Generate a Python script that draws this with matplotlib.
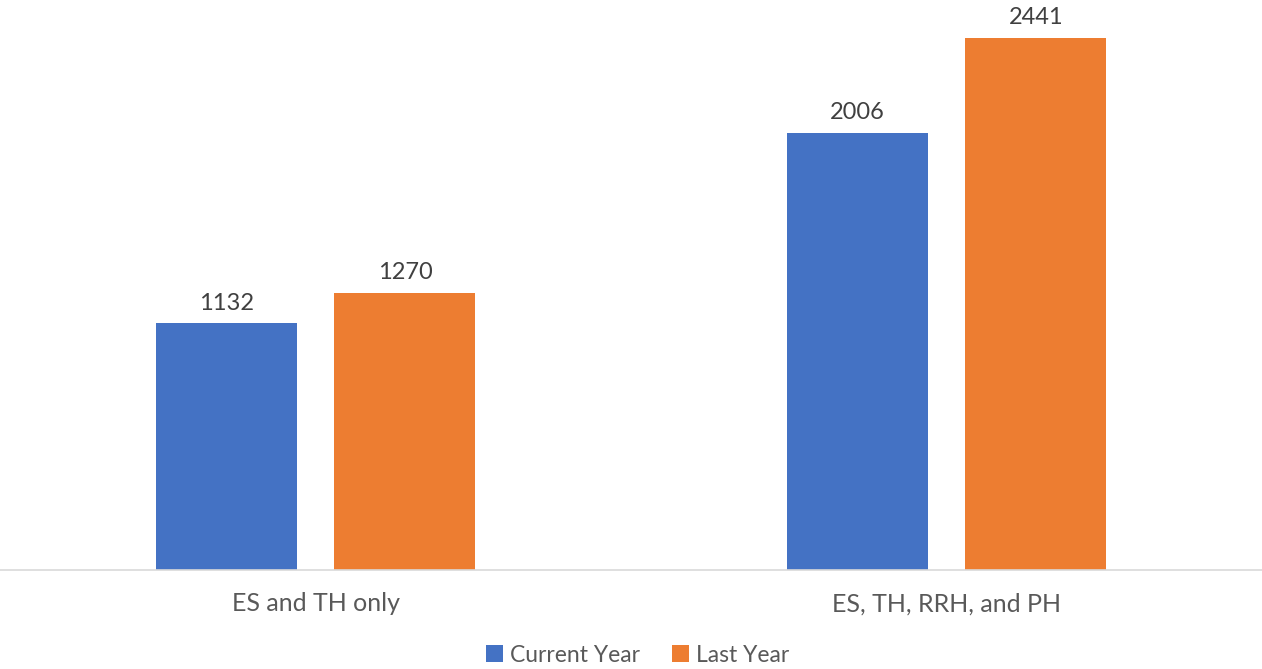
import matplotlib.pyplot as plt
import numpy as np

categories = ["ES and TH only", "ES, TH, RRH, and PH"]
current_year = [1132, 2006]
last_year = [1270, 2441]

plt.rcParams['font.family'] = ['Lato', 'DejaVu Sans']

fig = plt.figure(figsize=(12.62, 6.69), dpi=100)
ax = fig.add_axes([0, (669 - 570) / 669, 1, 570 / 669])

x = np.arange(len(categories))
w = 0.2235
off = 0.1418
b1 = ax.bar(x - off, current_year, w, color="#4472C4", label="Current Year")
b2 = ax.bar(x + off, last_year, w, color="#ED7D31", label="Last Year")

for bars in (b1, b2):
    for r in bars:
        ax.annotate(str(int(r.get_height())), (r.get_x() + r.get_width() / 2, r.get_height()),
                    xytext=(0, 7), textcoords="offset points", ha="center", va="bottom",
                    fontsize=17, color="#404040")

ax.set_xlim(-0.5, 1.5)
ax.set_ylim(0, 2615)
ax.set_yticks([])
ax.set_xticks(x)
ax.set_xticklabels(categories, fontsize=18, color="#595959")
ax.tick_params(axis="x", length=0, pad=16)
for s in ["top", "left", "right"]:
    ax.spines[s].set_visible(False)
ax.spines["bottom"].set_color("#D9D9D9")
ax.spines["bottom"].set_linewidth(1.2)

fig.legend(loc="center", bbox_to_anchor=(0.505, 1 - 655 / 669), ncol=2, frameon=False,
           fontsize=16.5, labelcolor="#595959", handlelength=0.75, handleheight=0.75,
           handletextpad=0.3, columnspacing=1.4)

fig.savefig("out.png", dpi=100)
